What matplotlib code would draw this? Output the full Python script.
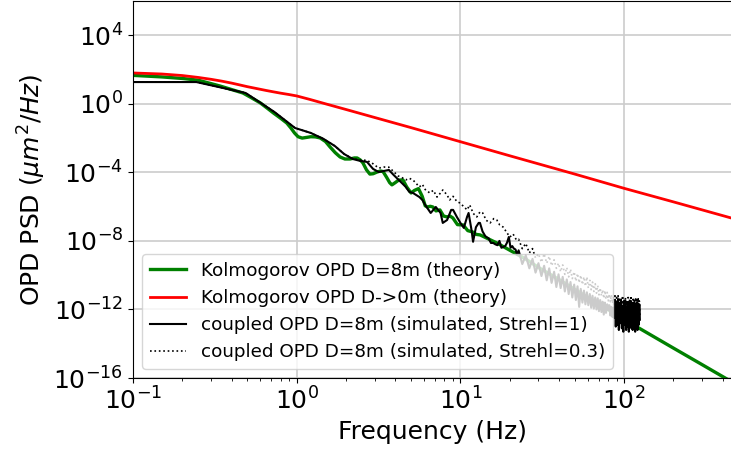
import numpy as np
import matplotlib
matplotlib.use("Agg")
import matplotlib.pyplot as plt

# ---------------- data (PSD given as log10 values) -------------
theory_8m_freq = [0.10, 0.15, 0.20, 0.25, 0.34, 0.47, 0.53, 0.60, 0.66, 0.72, 0.80, 0.87, 0.92,
                  0.97, 1.02, 1.08, 1.15, 1.22, 1.30, 1.39, 1.50, 1.60, 1.72, 1.84, 1.97, 2.12,
                  2.25, 2.34, 2.45, 2.54, 2.67, 2.80, 2.93, 3.10, 3.25, 3.37, 3.55, 3.70, 3.82,
                  4.00, 4.20, 4.46, 4.70, 5.00, 5.25, 5.55, 5.85, 6.10, 6.30, 6.55, 6.80, 7.10,
                  7.50, 7.90, 8.30, 8.65, 9.00, 9.60, 10.4, 11.1, 11.9, 12.5, 13.2, 16.7, 20.9,
                  25.0, 30.0, 40.0, 55.0, 75.0, 100.0, 120.0, 200.0, 300.0, 500.0]
theory_8m_log = [1.66, 1.57, 1.48, 1.38, 1.04, 0.63, 0.35, 0.05, -0.25, -0.53, -0.85, -1.12, -1.40,
                 -1.70, -1.92, -2.00, -1.96, -1.92, -1.93, -1.99, -2.20, -2.52, -2.85, -3.10, -3.22,
                 -3.22, -3.16, -3.16, -3.28, -3.45, -3.85, -4.10, -4.08, -3.98, -3.92, -3.95, -4.30,
                 -4.60, -4.73, -4.60, -4.45, -4.44, -4.85, -5.20, -5.05, -4.95, -5.40, -5.95, -6.02,
                 -5.98, -6.02, -6.25, -6.19, -6.55, -6.60, -6.55, -6.66, -7.05, -7.07, -7.40, -7.48,
                 -7.62, -7.65, -8.12, -8.64, -9.05, -9.55, -10.25, -11.07, -11.85, -12.57, -13.02,
                 -14.25, -15.22, -16.45]

theory_0m_freq = [0.10, 0.15, 0.20, 0.25, 0.30, 0.35, 0.40, 0.45, 0.50, 0.57, 0.65, 0.72, 0.80,
                  0.90, 1.0, 1.2, 1.5, 2.0, 3.0, 5.0, 10.0, 20.0, 50.0, 100.0, 200.0, 500.0]
theory_0m_log = [1.80, 1.74, 1.65, 1.54, 1.43, 1.32, 1.21, 1.10, 1.00, 0.89, 0.78, 0.70, 0.62,
                 0.54, 0.46, 0.26, 0.00, -0.33, -0.80, -1.39, -2.21, -3.03, -4.10, -4.93, -5.72,
                 -6.78]

sim_s1_freq = [0.10, 0.244, 0.488, 0.732, 0.977, 1.22, 1.46, 1.71, 1.95, 2.20, 2.44, 2.69, 2.93,
               3.17, 3.42, 3.66, 3.91, 4.15, 4.39, 4.64, 4.88, 5.13, 5.37, 5.62, 5.86,
               6.10, 6.59, 7.08, 7.57, 7.81, 8.30, 8.79, 9.03, 9.52, 10.01, 10.50, 10.99, 11.23,
               11.72, 11.96, 12.45, 12.94, 13.18, 13.67, 14.16, 14.40, 14.89, 15.38, 15.87, 16.36,
               16.85, 17.33, 17.82, 18.31, 18.80, 19.29, 19.78, 20.26, 20.75, 21.24, 21.73, 22.22,
               22.7, 23.9, 25.1, 26.4, 27.6, 28.8, 30.0, 31.3, 32.5, 33.7, 34.9, 36.1, 37.4, 38.6,
               39.8, 41.0, 42.2, 43.5, 44.7, 45.9, 47.1, 48.3, 49.6, 50.8, 52.0, 53.2, 54.4, 55.7,
               56.9, 58.1, 59.3, 60.5, 61.8, 63.0, 64.2, 65.4, 66.7, 67.9, 69.1, 70.3, 71.5, 72.8,
               74.0, 75.2, 76.4, 77.6, 78.9, 80.1, 81.3, 82.5, 83.7, 85.0, 86.2, 87.4,
               88, 89, 90, 91, 92, 93, 94, 95, 96, 97, 98, 99, 100, 101, 102, 103, 104, 105, 106,
               107, 108, 109, 110, 111, 112, 113, 114, 115, 116, 117, 118, 119, 120, 121, 122,
               123, 124, 125]
sim_s1_log = [1.27, 1.27, 0.63, -0.48, -1.41, -1.70, -2.05, -2.46, -2.93, -3.22, -3.33, -3.39, -3.80,
              -3.98, -3.92, -3.86, -4.15, -4.39, -4.62, -4.85, -5.14, -5.20, -5.32, -5.44, -5.61,
              -5.90, -6.37, -6.02, -6.37, -6.95, -6.78, -6.19, -6.19, -6.60, -6.95, -7.24, -6.60, -6.37,
              -7.40, -8.05, -7.20, -6.95, -6.95, -7.45, -7.70, -7.77, -7.85, -8.12, -8.12, -8.20,
              -8.25, -8.00, -8.40, -8.35, -8.30, -8.10, -7.77, -8.40, -8.30, -8.45, -8.50, -8.80,
              -8.55, -9.35, -8.85, -9.60, -9.05, -9.85, -9.30, -10.05, -9.45, -10.30, -9.60, -10.45,
              -9.80, -10.69, -9.95, -10.75, -10.10, -10.95, -10.25, -11.10, -10.40, -11.30, -10.55,
              -11.45, -10.65, -11.85, -10.80, -11.60, -10.90, -11.70, -11.00, -11.75, -11.10, -11.90,
              -11.20, -11.95, -11.30, -12.00, -11.35, -12.10, -11.45, -12.15, -11.55, -12.30, -11.60,
              -12.20, -11.70, -12.03, -11.75, -12.35, -11.85, -12.44, -11.90, -12.50,
              -11.45, -13.0, -11.6, -12.9, -11.4, -13.2, -11.7, -12.8, -11.5, -13.1, -11.8, -13.3,
              -11.6, -12.9, -11.5, -13.2, -11.9, -13.0, -11.6, -13.3, -11.7, -12.8, -11.5, -13.1,
              -11.8, -13.2, -11.6, -12.9, -11.7, -13.3, -11.9, -13.0, -11.6, -13.2, -11.8, -12.9,
              -11.7, -12.6]

sim_s03_freq = [0.10, 0.244, 0.488, 0.732, 0.977, 1.22, 1.46, 1.71, 1.95, 2.20, 2.44, 2.69, 2.93,
                3.17, 3.42, 3.66, 3.91, 4.15, 4.39, 4.64, 4.88, 5.13, 5.62, 5.86, 6.10, 6.50, 6.84,
                7.20, 7.57, 7.81, 8.30, 8.60, 9.03, 9.52, 9.96, 10.5, 11.0, 11.4, 12.0, 12.6, 13.2,
                13.7, 14.4, 15.2, 16.0, 16.7, 17.4, 18.3, 19.3, 20.1, 21.0, 22.0,
                22.7, 23.9, 25.1, 26.4, 27.6, 28.8, 30.0, 31.3, 32.5, 33.7, 34.9, 36.1, 37.4, 38.6,
                39.8, 41.0, 42.2, 43.5, 44.7, 45.9, 47.1, 48.3, 49.6, 50.8, 52.0, 53.2, 54.4, 55.7,
                56.9, 58.1, 59.3, 60.5, 61.8, 63.0, 64.2, 65.4, 66.7, 67.9, 69.1, 70.3, 71.5, 72.8,
                74.0, 75.2, 76.4, 77.6, 78.9, 80.1, 81.3, 82.5, 83.7, 85.0, 86.2, 87.4,
                88, 89, 90, 91, 92, 93, 94, 95, 96, 97, 98, 99, 100, 101, 102, 103, 104, 105, 106,
                107, 108, 109, 110, 111, 112, 113, 114, 115, 116, 117, 118, 119, 120, 121, 122,
                123, 124, 125]
sim_s03_log = [1.27, 1.27, 0.63, -0.48, -1.41, -1.70, -2.05, -2.46, -2.93, -3.20, -3.28, -3.30, -3.50,
               -3.75, -3.69, -3.70, -3.95, -4.20, -4.30, -4.44, -4.35, -4.44, -4.85, -4.70, -5.00,
               -5.20, -5.05, -5.44, -5.20, -5.03, -5.32, -5.61, -5.40, -5.70, -5.79, -6.00, -6.19,
               -5.90, -6.40, -6.60, -6.30, -6.37, -6.80, -6.95, -6.70, -6.78, -7.07, -7.20, -7.54,
               -7.77, -7.60, -7.94,
               -7.90, -8.45, -8.15, -8.70, -8.45, -9.00, -8.75, -9.25, -8.75, -9.30, -8.90, -9.45,
               -9.10, -9.60, -9.30, -9.80, -9.40, -9.95, -9.55, -10.10, -9.65, -10.20, -9.80, -10.35,
               -9.90, -10.45, -10.00, -10.55, -10.10, -10.65, -10.10, -10.75, -10.30, -10.85, -10.40,
               -10.95, -10.50, -11.05, -10.60, -11.15, -10.75, -11.20, -10.85, -11.35, -10.90, -11.40,
               -11.00, -11.50, -11.10, -11.55, -11.15, -11.65, -11.25, -11.70,
               -11.2, -12.3, -11.3, -12.5, -11.2, -12.2, -11.4, -12.6, -11.3, -12.4, -11.2, -12.7,
               -11.4, -12.3, -11.3, -12.5, -11.5, -12.4, -11.3, -12.6, -11.4, -12.3, -11.2, -12.5,
               -11.5, -12.7, -11.3, -12.4, -11.4, -12.6, -11.3, -12.5, -11.4, -12.3, -11.3, -12.6,
               -11.5, -12.4]

labels = ["Kolmogorov OPD D=8m (theory)",
          "Kolmogorov OPD D->0m (theory)",
          "coupled OPD D=8m (simulated, Strehl=1)",
          "coupled OPD D=8m (simulated, Strehl=0.3)"]


def pw(v):
    return 10.0 ** np.asarray(v, dtype=float)


# ---------------- figure ----------------
W, H = 731, 451
fig = plt.figure(figsize=(W / 100, H / 100), dpi=100)
ax = fig.add_axes([133 / W, (H - 378) / H, (731 - 133) / W, (378 - 1) / H])

ax.plot(theory_8m_freq, pw(theory_8m_log), color="green", lw=2.4, label=labels[0])
ax.plot(theory_0m_freq, pw(theory_0m_log), color="red", lw=2.0, label=labels[1])
ax.plot(sim_s1_freq, pw(sim_s1_log), color="black", lw=1.5, label=labels[2])
ax.plot(sim_s03_freq, pw(sim_s03_log), color="black", lw=1.2, ls=":", label=labels[3])

ax.set_xscale("log")
ax.set_yscale("log")
ax.set_xlim(0.1, 10 ** (2 + 107 / 163.7))
ax.set_ylim(1e-16, 1e6)
ax.set_yticks([1e-16, 1e-12, 1e-8, 1e-4, 1e0, 1e4])
ax.yaxis.set_minor_locator(matplotlib.ticker.NullLocator())
ax.grid(True, which="major", color="#cccccc", lw=1.2)
ax.set_axisbelow(True)
ax.spines["right"].set_visible(False)

ax.tick_params(axis="both", which="major", labelsize=18)
ax.set_xlabel("Frequency (Hz)", fontsize=18)
ax.set_ylabel(r"OPD PSD ($\mu m^2/Hz$)", fontsize=18)

ax.legend(loc="lower left", fontsize=13.25)

fig.savefig("out.png", dpi=100)
